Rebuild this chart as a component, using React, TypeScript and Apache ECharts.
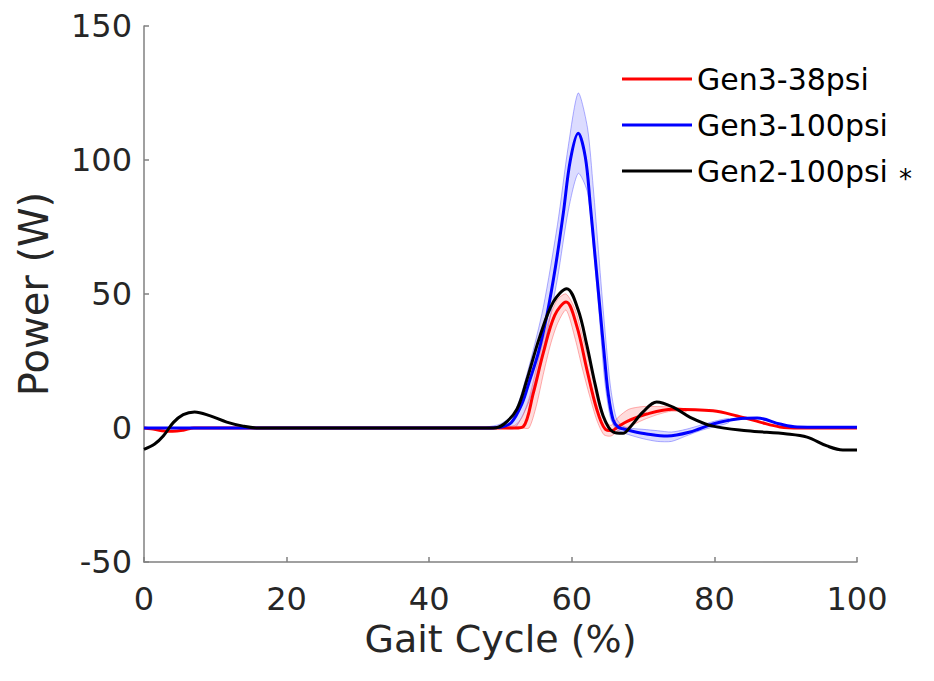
import React, { useEffect, useRef } from "react";
import * as echarts from "echarts";

const seriesNames = ["Gen3-38psi", "Gen3-100psi", "Gen2-100psi"];
const xTickInterval = 20;
const yTickInterval = 50;

const redLine: number[][] = [
  [0, 0], [1, -0.3], [2.5, -1], [4, -1.2], [5.5, -0.8], [7, 0], [10, 0], [20, 0], [30, 0], [40, 0], [50, 0], [52, 0],
  [53.2, 0.5], [54.6, 13], [56, 28], [57.6, 42], [59.2, 47], [60.7, 38], [62.1, 22], [63.5, 7], [64.7, -0.5],
  [65.6, -1], [66.5, 0.5], [67.7, 2.4], [70.5, 5.2], [74.2, 7], [79.8, 6.4], [83.2, 4.5], [86.4, 2.2], [89.2, 0.4],
  [92, 0], [96, 0], [100, 0],
];

const blueLine: number[][] = [
  [0, 0], [10, 0], [20, 0], [30, 0], [40, 0], [48, 0], [50, 0.3], [51.5, 2], [53, 9], [54, 17], [55.3, 28],
  [56.5, 42], [57.7, 60], [58.8, 80], [59.8, 100], [60.9, 110], [61.9, 101], [62.6, 83], [63.3, 63], [64, 43],
  [64.6, 26], [65.1, 13], [65.8, 3], [66.5, 0.3], [67.2, -0.3], [68.5, -1.2], [70.5, -2.2], [73.4, -3], [76.6, -1.5],
  [79.8, 1.5], [83.2, 3.4], [86, 3.7], [89.2, 1.5], [91.6, 0.4], [95, 0.3], [100, 0.3],
];

const blackLine: number[][] = [
  [0, -8], [1.5, -6], [2.7, -3], [4.1, 2], [5.5, 5], [7.1, 6], [9.3, 4.5], [11.6, 2.2], [13.9, 0.7], [16, 0],
  [30, 0], [45, 0], [49, 0], [50.5, 1.5], [52.3, 7], [53.7, 18], [55.5, 34], [57.4, 47], [59.3, 52], [60.9, 44],
  [62.1, 31], [63.3, 16], [64.4, 4.5], [65.8, -1.5], [67.2, -2], [68.2, 0.4], [70, 6], [71.9, 9.7], [74.2, 7.8],
  [76.6, 4], [79.8, 0.7], [84.6, -1], [90.2, -2.2], [93, -3.4], [95.8, -6.7], [98, -8.2], [100, -8.2],
];

const blueBandX = [48, 50, 52, 54, 56, 58, 59.5, 60.9, 62.2, 63, 63.8, 64.6, 65.4, 66.2, 67, 68, 70, 72, 74, 76, 78, 80, 82];
const blueBandUpper = [0.3, 1.5, 6, 23, 45, 76, 105, 125, 112, 90, 64, 38, 16, 4, 1, 0, -0.5, -1, -1.5, -0.5, 1, 2.5, 3.5];
const blueBandLower = [0, 0, 0, 10, 29, 56, 81, 95, 88, 68, 44, 18, 4, -0.5, -1.5, -2.5, -4, -5, -5, -3, -1, 0.5, 2];

const redBandX = [50, 52, 53, 54, 55, 56, 57, 58, 59.2, 60.5, 61.5, 62.5, 63.5, 64.5, 65.5, 66.5, 68, 70, 72, 74, 76];
const redBandUpper = [0.3, 1, 4, 11, 22, 33, 42, 48, 50, 44, 34, 24, 12, 3, 1, 4, 7, 8, 8, 7.8, 7];
const redBandLower = [0, 0, 0, 0, 8, 20, 31, 39, 44, 33, 22, 12, 3, -2.5, -3, -1, 0.5, 3, 5, 6.3, 6];

const FONT = "DejaVu Sans";

function bandSeries(bx: number[], up: number[], lo: number[], fill: string, stroke: string) {
  return {
    type: "custom",
    coordinateSystem: "cartesian2d",
    silent: true,
    z: 1,
    data: bx.map((x, i) => [x, lo[i], up[i]]),
    encode: { x: 0, y: [1, 2] },
    renderItem: (params: any, api: any) => {
      if (params.dataIndex !== 0) return null;
      const top = bx.map((x, i) => api.coord([x, up[i]]));
      const bot = bx.map((x, i) => api.coord([x, lo[i]])).reverse();
      return {
        type: "polygon",
        shape: { points: top.concat(bot), smooth: 0.25 },
        style: { fill, stroke, lineWidth: 1 },
      };
    },
  };
}

export default function App() {
  const ref = useRef<HTMLDivElement>(null);
  useEffect(() => {
    if (!ref.current) return;
    const chart = echarts.init(ref.current, null, { renderer: "svg" });
    const lineCommon = { type: "line", showSymbol: false, symbol: "none", smooth: 0.35, z: 3 };
    chart.setOption({
      animation: false,
      backgroundColor: "#ffffff",
      grid: { left: 144, right: 77, top: 26, bottom: 119, containLabel: false },
      legend: {
        data: seriesNames,
        orient: "vertical",
        left: 617,
        top: 59,
        icon: "rect",
        itemWidth: 70,
        itemHeight: 3,
        itemGap: 16,
        textStyle: { fontFamily: FONT, fontSize: 30, color: "#000", lineHeight: 30 },
      },
      xAxis: {
        type: "value",
        min: 0,
        max: 100,
        interval: xTickInterval,
        name: "Gait Cycle (%)",
        nameLocation: "middle",
        nameGap: 55,
        nameTextStyle: { fontFamily: FONT, fontSize: 38, color: "#262626" },
        axisLine: { onZero: false, lineStyle: { color: "#808080", width: 1.5 } },
        axisTick: { inside: true, length: 5, lineStyle: { color: "#808080", width: 1.5 } },
        axisLabel: { fontFamily: FONT, fontSize: 32, color: "#262626", margin: 21 },
        splitLine: { show: false },
      },
      yAxis: {
        type: "value",
        min: -50,
        max: 150,
        interval: yTickInterval,
        name: "Power (W)",
        nameLocation: "middle",
        nameRotate: 90,
        nameGap: 90,
        nameTextStyle: { fontFamily: FONT, fontSize: 40, color: "#262626" },
        axisLine: { show: true, onZero: false, lineStyle: { color: "#808080", width: 1.5 } },
        axisTick: { show: true, inside: true, length: 5, lineStyle: { color: "#808080", width: 1.5 } },
        axisLabel: { fontFamily: FONT, fontSize: 32, color: "#262626", margin: 12 },
        splitLine: { show: false },
      },
      graphic: [
        {
          type: "text",
          left: 899,
          top: 166,
          style: { text: "*", font: `26px ${FONT}`, fill: "#000" },
        },
      ],
      series: [
        bandSeries(blueBandX, blueBandUpper, blueBandLower, "rgba(60,60,255,0.18)", "rgba(80,80,255,0.45)"),
        bandSeries(redBandX, redBandUpper, redBandLower, "rgba(255,60,60,0.18)", "rgba(255,80,80,0.45)"),
        { ...lineCommon, name: seriesNames[0], data: redLine, color: "#ff0000", lineStyle: { color: "#ff0000", width: 3 } },
        { ...lineCommon, name: seriesNames[1], data: blueLine, color: "#0000ff", lineStyle: { color: "#0000ff", width: 3 } },
        { ...lineCommon, name: seriesNames[2], data: blackLine, color: "#000000", lineStyle: { color: "#000000", width: 3 } },
      ],
    });
    return () => chart.dispose();
  }, []);
  return <div ref={ref} style={{ position: "absolute", left: 0, top: 0, width: 934, height: 681 }} />;
}
